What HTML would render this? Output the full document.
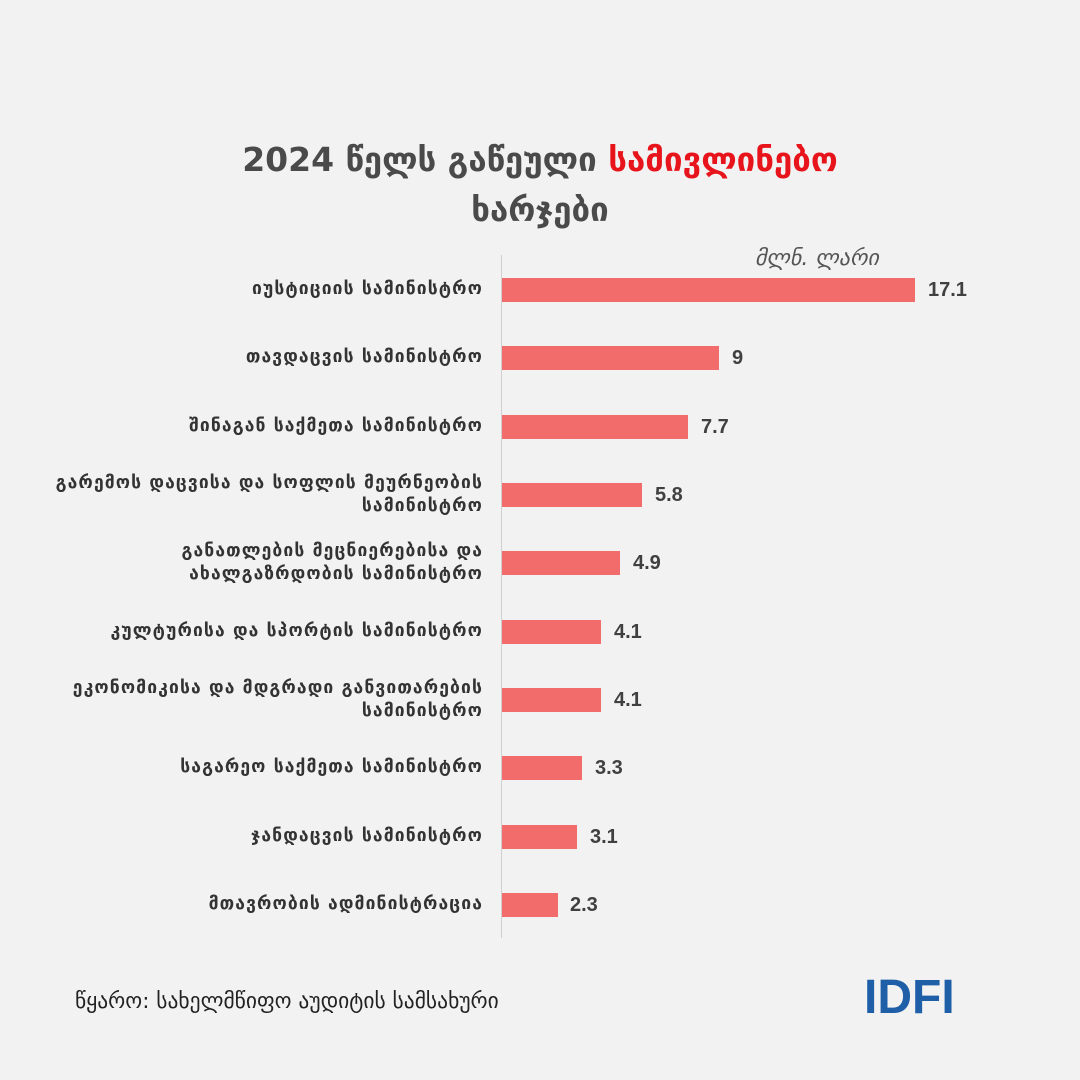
<!DOCTYPE html>
<html><head><meta charset="utf-8"><style>
html,body{margin:0;padding:0;}
body{width:1080px;height:1080px;background:#f2f2f2;position:relative;overflow:hidden;font-family:"DejaVu Sans","Liberation Sans",sans-serif;}
.t{position:absolute;left:0;width:1080px;text-align:center;font-weight:bold;font-size:33px;color:#4a4a4a;}
.lab{position:absolute;right:597px;text-align:right;font-size:17.5px;font-weight:bold;letter-spacing:1.1px;color:#333;line-height:23px;white-space:nowrap;}
.bar{position:absolute;left:502px;height:24px;background:#f36c6c;}
.val{position:absolute;font-family:"Liberation Sans",sans-serif;font-weight:bold;font-size:20px;color:#404040;}
</style></head><body>
<div class="t" style="top:140px;">2024 წელს გაწეული <span style="color:#e8141b">სამივლინებო</span></div>
<div class="t" style="top:190px;">ხარჯები</div>
<div style="position:absolute;left:755px;top:246px;font-size:22px;font-style:italic;color:#555;">მლნ. ლარი</div>
<div style="position:absolute;left:501px;top:255px;width:1px;height:683px;background:#d0d0d0;"></div>

<div class="lab" style="top:278px;">იუსტიციის სამინისტრო</div>
<div class="bar" style="top:278px;width:413px;"></div><div class="val" style="left:928px;top:279px;">17.1</div>

<div class="lab" style="top:346px;">თავდაცვის სამინისტრო</div>
<div class="bar" style="top:346px;width:217px;"></div><div class="val" style="left:732px;top:347px;">9</div>

<div class="lab" style="top:415px;">შინაგან საქმეთა სამინისტრო</div>
<div class="bar" style="top:415px;width:186px;"></div><div class="val" style="left:701px;top:416px;">7.7</div>

<div class="lab" style="top:472px;">გარემოს დაცვისა და სოფლის მეურნეობის<br>სამინისტრო</div>
<div class="bar" style="top:483px;width:140px;"></div><div class="val" style="left:655px;top:484px;">5.8</div>

<div class="lab" style="top:540px;">განათლების მეცნიერებისა და<br>ახალგაზრდობის სამინისტრო</div>
<div class="bar" style="top:551px;width:118px;"></div><div class="val" style="left:633px;top:552px;">4.9</div>

<div class="lab" style="top:620px;">კულტურისა და სპორტის სამინისტრო</div>
<div class="bar" style="top:620px;width:99px;"></div><div class="val" style="left:614px;top:621px;">4.1</div>

<div class="lab" style="top:677px;">ეკონომიკისა და მდგრადი განვითარების<br>სამინისტრო</div>
<div class="bar" style="top:688px;width:99px;"></div><div class="val" style="left:614px;top:689px;">4.1</div>

<div class="lab" style="top:756px;">საგარეო საქმეთა სამინისტრო</div>
<div class="bar" style="top:756px;width:80px;"></div><div class="val" style="left:595px;top:757px;">3.3</div>

<div class="lab" style="top:825px;">ჯანდაცვის სამინისტრო</div>
<div class="bar" style="top:825px;width:75px;"></div><div class="val" style="left:590px;top:826px;">3.1</div>

<div class="lab" style="top:893px;">მთავრობის ადმინისტრაცია</div>
<div class="bar" style="top:893px;width:56px;"></div><div class="val" style="left:570px;top:894px;">2.3</div>

<div style="position:absolute;left:75px;top:989px;font-size:21.5px;color:#222;">წყარო: სახელმწიფო აუდიტის სამსახური</div>
<div style="position:absolute;left:864px;top:970px;font-family:'Liberation Sans',sans-serif;font-size:48px;font-weight:bold;color:#1f5fa8;">IDFI</div>
</body></html>
